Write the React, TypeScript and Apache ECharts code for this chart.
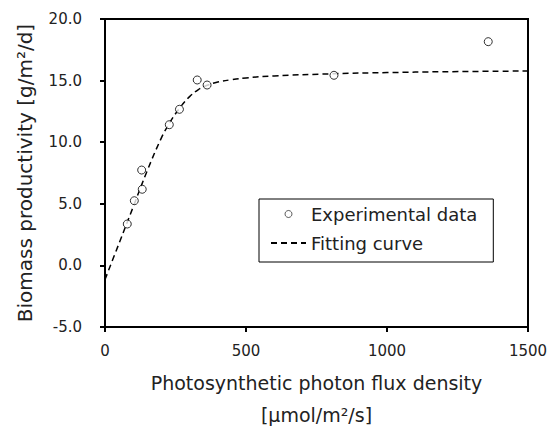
import React, { useEffect, useRef } from "react";
import * as echarts from "echarts";

const expX = [79, 104, 132, 130, 228, 264, 327, 362, 812, 1359];
const expY = [3.36, 5.25, 6.18, 7.74, 11.42, 12.67, 15.05, 14.64, 15.43, 18.16];

const fitX = [0, 50, 100, 150, 200, 230, 264, 300, 330, 360, 400, 450, 500, 600, 800, 1000, 1200, 1500];
const fitY = [-1.15, 1.8, 4.75, 7.7, 10.35, 11.6, 12.75, 13.7, 14.25, 14.6, 14.88, 15.08, 15.22, 15.38, 15.55, 15.65, 15.72, 15.78];

const FONT = "'DejaVu Sans', sans-serif";
const TXT = "#222";

export default function App() {
  const ref = useRef<HTMLDivElement>(null);
  useEffect(() => {
    if (!ref.current) return;
    const chart = echarts.init(ref.current, undefined, { renderer: "svg" });
    chart.setOption({
      animation: false,
      textStyle: { fontFamily: FONT, color: TXT },
      grid: {
        left: 105,
        right: 32,
        top: 19,
        bottom: 102,
        show: true,
        borderColor: "#000",
        borderWidth: 2,
        containLabel: false,
        outerBoundsMode: "none",
      },
      legend: {
        orient: "vertical",
        left: 259,
        top: 199,
        padding: [6, 16, 10, 11],
        borderColor: "#000",
        borderWidth: 1,
        itemWidth: 35,
        itemHeight: 7,
        itemGap: 11,
        textStyle: { fontSize: 18, lineHeight: 18, fontFamily: FONT, color: TXT },
        data: [
          { name: "Experimental data", itemStyle: { color: "#fff", borderColor: "#000", borderWidth: 0.8 } },
          { name: "Fitting curve", itemStyle: { color: "rgba(0,0,0,0)", borderWidth: 0 } },
        ],
      },
      xAxis: {
        type: "value",
        min: 0,
        max: 1500,
        interval: 500,
        name: "Photosynthetic photon flux density\n[μmol/m²/s]",
        nameLocation: "middle",
        nameGap: 40,
        nameTextStyle: { fontSize: 19, lineHeight: 32, color: TXT, fontFamily: FONT },
        axisLine: { onZero: false, lineStyle: { color: "#000", width: 2 } },
        axisTick: { show: true, inside: false, length: 5, lineStyle: { color: "#000", width: 2 } },
        axisLabel: { fontSize: 15, color: TXT, margin: 16, fontFamily: FONT, formatter: (v: number) => String(v) },
        splitLine: { show: false },
      },
      yAxis: {
        type: "value",
        min: -5,
        max: 20,
        interval: 5,
        name: "Biomass productivity [g/m²/d]",
        nameLocation: "middle",
        nameGap: 70,
        nameTextStyle: { fontSize: 20, lineHeight: 20, color: TXT, fontFamily: FONT },
        axisLine: { show: true, onZero: false, lineStyle: { color: "#000", width: 2 } },
        axisTick: { show: true, inside: false, length: 5, lineStyle: { color: "#000", width: 2 } },
        axisLabel: {
          fontSize: 15,
          color: TXT,
          margin: 23,
          fontFamily: FONT,
          formatter: (v: number) => v.toFixed(1),
        },
        splitLine: { show: false },
      },
      series: [
        {
          name: "Experimental data",
          type: "scatter",
          symbol: "circle",
          symbolSize: 8,
          itemStyle: { color: "#fff", borderColor: "#000", borderWidth: 1 },
          data: expX.map((x, i) => [x, expY[i]]),
          z: 3,
        },
        {
          name: "Fitting curve",
          type: "line",
          smooth: 0.4,
          symbol: "none",
          lineStyle: { color: "#000", width: 1.5, type: [6, 4] },
          itemStyle: { color: "#000" },
          data: fitX.map((x, i) => [x, fitY[i]]),
          z: 2,
        },
      ],
    });
    return () => chart.dispose();
  }, []);
  return <div ref={ref} style={{ width: 560, height: 429, position: "absolute", left: 0, top: 0 }} />;
}
